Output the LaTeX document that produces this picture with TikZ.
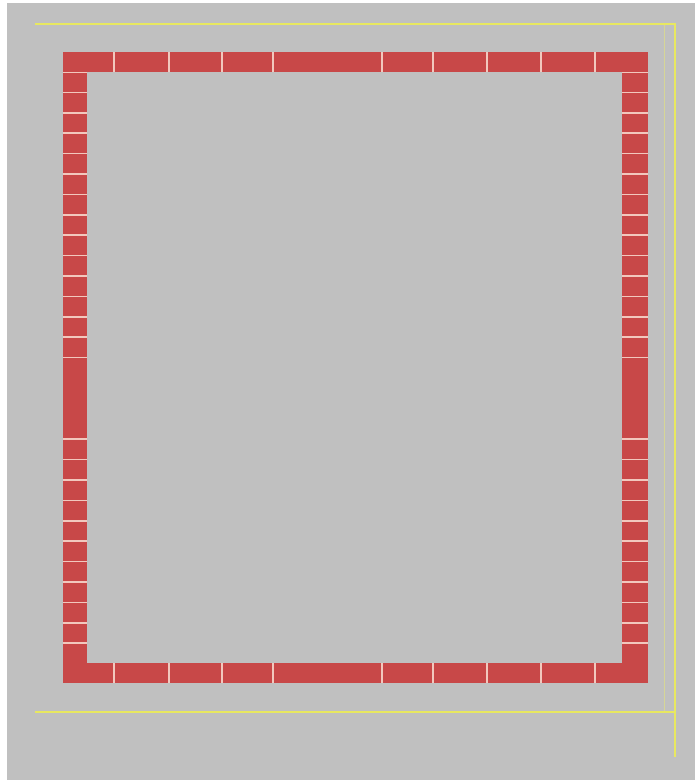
\documentclass[tikz,border=0pt]{standalone}
\definecolor{bggray}{RGB}{192,192,192}
\definecolor{brick}{RGB}{200,72,72}
\definecolor{joint}{RGB}{242,200,190}
\definecolor{guide}{RGB}{232,232,96}
\definecolor{guidefaint}{RGB}{214,214,150}
\tikzset{
  brickfill/.style={fill=brick, draw=none},
  jointline/.style={draw=joint, line width=1.6pt},
  guideline/.style={draw=guide, line width=2pt},
  faintguide/.style={draw=guidefaint, line width=1pt}
}
\begin{document}
\begin{tikzpicture}[x=1pt,y=-1pt]
\useasboundingbox (0,0) rectangle (695,780);
\fill[white] (0,0) rectangle (695,780);
\fill[bggray] (7,3) rectangle (695,780);
% guide lines
\draw[faintguide] (664,24) -- (664,712);
\draw[guideline] (35,24) -- (675,24) -- (675,757);
\draw[guideline] (35,712) -- (675,712);
% brick frame
\fill[brickfill] (63,52) rectangle (648,72);
\fill[brickfill] (63,663) rectangle (648,683);
\fill[brickfill] (63,72) rectangle (87,663);
\fill[brickfill] (622,72) rectangle (648,663);
% joints in horizontal bars
\foreach \x in {114,169,222,273,382,433,487,541,595}{
  \draw[jointline] (\x,52) -- (\x,72);
  \draw[jointline] (\x,663) -- (\x,683);
}
% joints in vertical bars
\draw[jointline, line width=1pt] (63,72) -- (87,72);
\draw[jointline, line width=1pt] (622,72) -- (648,72);
\foreach \k in {1,...,14,18,19,...,28}{
  \pgfmathsetmacro{\yy}{72+20.4*\k}
  \draw[jointline] (63,\yy) -- (87,\yy);
  \draw[jointline] (622,\yy) -- (648,\yy);
}
\end{tikzpicture}
\end{document}
